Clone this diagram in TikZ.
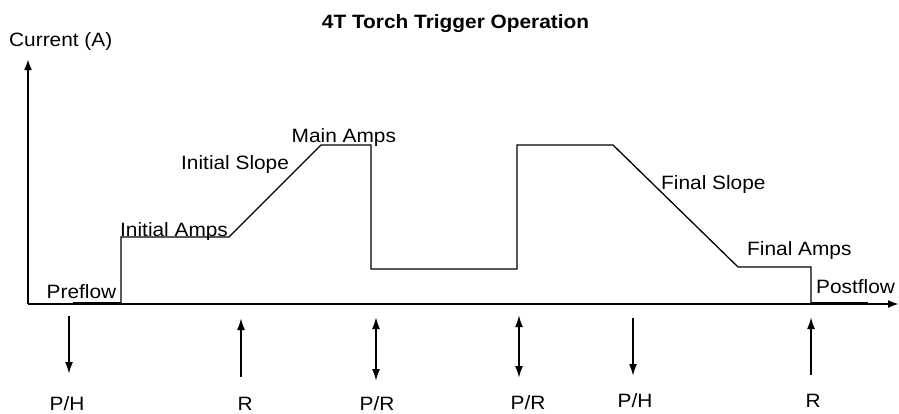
\documentclass[tikz,border=0pt]{standalone}
\usepackage{fontspec}
\setmainfont{Liberation Sans}[FakeStretch=1.08]
\usetikzlibrary{arrows.meta}
\begin{document}
\begin{tikzpicture}[x=1pt,y=-1pt,
  lbl/.style={inner sep=0pt, anchor=base west, font=\fontsize{19.3}{22}\selectfont},
  ttl/.style={inner sep=0pt, anchor=base, font=\fontsize{19.3}{22}\selectfont\bfseries},
  axis/.style={line width=2pt, -{Latex[length=11pt,width=8pt]}},
  wave/.style={line width=1.3pt, line join=miter},
  flow/.style={line width=2.4pt},
  trig/.style={line width=2pt, -{Latex[length=12pt,width=8pt]}},
  trigb/.style={line width=2pt, {Latex[length=12pt,width=8pt]}-{Latex[length=12pt,width=8pt]}}]
\useasboundingbox (0,0) rectangle (899,413);
% axes
\coordinate (O) at (28,304);
\coordinate (Ytop) at (28,59);
\coordinate (Xend) at (899,304);
\draw[axis] (O) -- (Ytop);
\draw[axis] (O) -- (Xend);
% waveform
\coordinate (w0) at (121,304);
\coordinate (w1) at (121,237);
\coordinate (w2) at (229,237);
\coordinate (w3) at (321,145);
\coordinate (w4) at (371,145);
\coordinate (w5) at (371,269);
\coordinate (w6) at (517,269);
\coordinate (w7) at (517,145);
\coordinate (w8) at (613,145);
\coordinate (w9) at (738,267);
\coordinate (w10) at (811,267);
\coordinate (w11) at (811,304);
\draw[wave] (w0) -- (w1) -- (w2) -- (w3) -- (w4) -- (w5) -- (w6) -- (w7) -- (w8) -- (w9) -- (w10) -- (w11);
% preflow / postflow
\coordinate (pf0) at (73,303);
\coordinate (pf1) at (121,303);
\coordinate (po0) at (811,303);
\coordinate (po1) at (868,303);
\draw[flow] (pf0) -- (pf1);
\draw[flow] (po0) -- (po1);
% labels
\node[ttl] (title) at (455.5,28) {4T Torch Trigger Operation};
\node[lbl] (ylab) at (9,46) {Current (A)};
\node[lbl] (lmain) at (291.5,142) {Main Amps};
\node[lbl] (lislope) at (181,169) {Initial Slope};
\node[lbl] (liamps) at (120,236) {Initial Amps};
\node[lbl] (lpre) at (46.5,298) {Preflow};
\node[lbl] (lfslope) at (661,189) {Final Slope};
\node[lbl] (lfamps) at (747,255) {Final Amps};
\node[lbl] (lpost) at (816,293) {Postflow};
% trigger arrows
\coordinate (a1s) at (69,316);  \coordinate (a1e) at (69,374);
\coordinate (a2s) at (241,377); \coordinate (a2e) at (241,318);
\coordinate (a3s) at (376,317); \coordinate (a3e) at (376,381);
\coordinate (a4s) at (519,315); \coordinate (a4e) at (519,378);
\coordinate (a5s) at (633,318); \coordinate (a5e) at (633,376);
\coordinate (a6s) at (811,375); \coordinate (a6e) at (811,317);
\draw[trig] (a1s) -- (a1e);
\draw[trig] (a2s) -- (a2e);
\draw[trigb] (a3s) -- (a3e);
\draw[trigb] (a4s) -- (a4e);
\draw[trig] (a5s) -- (a5e);
\draw[trig] (a6s) -- (a6e);
\node[lbl] (t1) at (49.5,410) {P/H};
\node[lbl] (t2) at (237.5,410) {R};
\node[lbl] (t3) at (359.5,410) {P/R};
\node[lbl] (t4) at (510.5,409) {P/R};
\node[lbl] (t5) at (617.5,407) {P/H};
\node[lbl] (t6) at (805.5,407) {R};
\end{tikzpicture}
\end{document}
